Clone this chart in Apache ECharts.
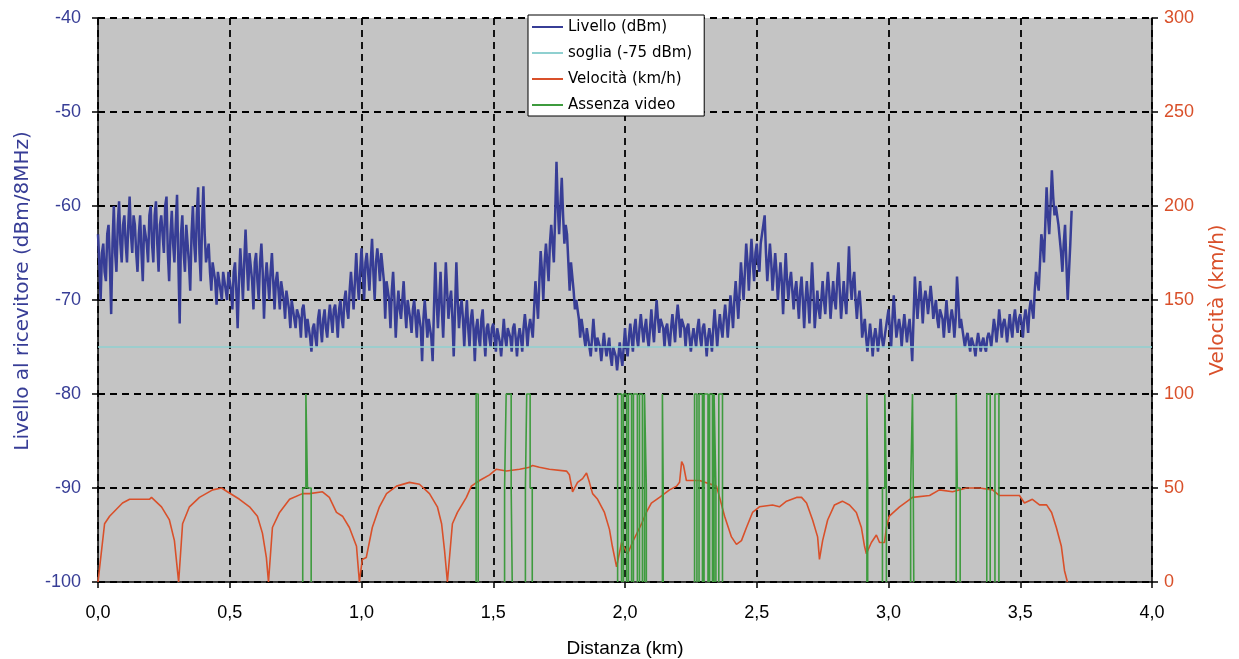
<!DOCTYPE html>
<html>
<head>
<meta charset="utf-8">
<title>Livello al ricevitore e velocità</title>
<script src="https://cdn.jsdelivr.net/npm/echarts@6/dist/echarts.min.js"></script>
<style>
	html, body { margin: 0; padding: 0; background: #fff; }
	#main { width: 1239px; height: 659px; }
</style>
</head>
<body>
<div id="main"></div>
<script>
// asse X: distanza in km
var xTicks = [0, 0.5, 1, 1.5, 2, 2.5, 3, 3.5, 4];

// livello al ricevitore (dBm), un campione ogni 0,005 km a partire da 0 (una riga = 0,1 km)
var livelloStepKm = 0.005;
var livelloDbm = [
	-63, -66, -70, -65, -64, -67, -68, -63, -62, -66, -71.5, -64, -60, -65, -67, -62, -59.5, -64, -66, -62,
	-61, -64, -66, -62, -59, -63, -65, -61, -62, -65, -67, -63, -61, -65, -68, -62, -63, -64, -66, -61,
	-60, -64, -66, -61, -59.5, -64, -67, -62, -61, -63, -65, -60, -59, -65, -68, -63, -60.5, -64, -66, -62,
	-58.8, -66, -72.5, -63, -61, -65, -67, -62, -62, -66, -69, -63, -60, -64, -66, -61, -58, -65, -68, -62,
	-57.9, -63, -66, -65, -64, -67, -69, -66, -66, -68, -70.5, -67, -67, -69, -70, -67, -68, -69, -70, -67,
	-67, -69, -71, -67, -66, -69, -73, -68, -64.5, -67, -70, -66, -62.5, -66, -69, -65, -65, -68, -71, -66,
	-65, -68, -70, -66, -64, -67, -72, -68, -66, -68, -70, -67, -65, -68, -71, -68, -67, -69, -71, -68,
	-68, -70, -72, -69, -69, -71, -73, -70, -70, -72, -73, -71, -71, -72, -74, -71, -70.5, -72, -74, -72,
	-72, -74, -75.5, -73, -72.5, -74, -75, -72, -71, -73, -74.5, -72, -71, -73, -74, -72, -70.5, -72, -73.5, -71,
	-70.5, -72, -74, -71, -70, -72, -73, -70, -69, -71, -72, -69, -67, -69, -71, -68, -65, -68, -70, -67,
	-64.5, -67, -70, -66, -65, -67, -69, -66, -63.5, -67, -70, -66, -64.5, -66, -68, -65, -65, -68, -72, -68,
	-68, -70, -73, -69, -67, -70, -74, -71, -69, -71, -72, -70, -68, -71, -73, -70, -70, -72, -73.5, -71,
	-70, -72, -74, -71, -71, -73, -76.5, -72, -70, -72, -74, -72, -72, -74, -76.5, -71, -66, -70, -73, -70,
	-67, -71, -74, -70, -66, -69, -72, -70, -69, -72, -76, -71, -66, -70, -73, -71, -70, -72, -75, -72,
	-70, -73, -75, -72, -71, -73, -76.5, -73, -72, -74, -75, -72, -71, -74, -76, -73, -72.5, -74, -75, -73,
	-72.5, -74, -75.5, -73, -73, -74.5, -76, -74, -72, -74, -75, -73, -73, -74, -75.5, -73, -72.5, -74, -76, -74,
	-73, -74, -75.5, -73, -71.5, -73, -75, -73, -72, -73, -74, -71, -68, -70, -72, -68, -64.8, -67, -70, -66,
	-64, -66, -68, -64, -62, -64, -66, -61, -55.3, -60, -63, -60, -57, -61, -64, -62, -63, -66, -69, -66,
	-66, -69, -71, -70, -70, -72, -74, -72, -72, -74, -75, -73, -73, -75, -76, -74, -72, -74, -75.5, -74,
	-74, -75, -76.5, -75, -73.5, -75, -76, -75, -74, -76, -77, -75, -75, -76, -77.5, -76, -74.5, -76, -77, -75,
	-73, -75, -76, -74, -72.5, -74, -75.5, -73, -72, -74, -75, -73, -71.5, -73, -74.5, -73, -72, -74, -75, -73,
	-71, -73, -74.5, -72, -70, -72, -73.5, -72, -72, -73, -75, -73, -72.5, -74, -75, -73, -71.5, -73, -74.5, -72,
	-70.5, -72, -74, -72, -72, -73, -75, -73, -72.5, -74, -75.5, -74, -73, -74, -75, -73, -72, -74, -75, -73,
	-72.5, -74, -76, -74, -73, -74, -75.5, -73, -71, -73, -75, -73, -71.5, -73, -74, -72, -70.5, -72, -74, -72,
	-69.5, -71, -73, -70, -68, -70, -72, -69, -66, -68, -70, -67, -64, -66, -69, -66, -63.5, -66, -68, -65,
	-64, -66, -67, -64, -63, -62, -61, -65, -68, -66, -64, -66, -69, -67, -65, -67, -70, -68, -66, -68,
	-71.5, -68, -65, -68, -70, -68, -67, -69, -71, -69, -68, -70, -72, -69, -67.5, -70, -73, -70, -68, -70,
	-72.5, -69, -66, -69, -73, -71, -69, -71, -72, -70, -68, -70, -71.5, -69, -67, -69, -72, -70, -68, -70,
	-71, -68, -66, -69, -72, -70, -68, -70, -71.5, -68, -64.3, -68, -70, -68, -67, -70, -72, -70, -69, -71,
	-74, -73, -72, -74, -75.5, -74, -72.5, -74, -76, -74, -73, -74, -75.5, -74, -72, -74, -75, -74, -73, -72,
	-71, -73, -75, -72, -69.5, -72, -74, -73, -72, -73, -75, -73, -71.5, -73, -74.5, -73, -72, -74, -76.5, -72,
	-67.5, -70, -72, -70, -68, -70, -72.5, -70, -69, -70, -71.5, -70, -68.5, -70, -72, -71, -70, -72, -73, -71,
	-71, -72, -74, -72, -70, -72, -73.5, -72, -71, -72, -74, -72, -67.5, -70, -73, -72, -72, -74, -75, -74,
	-73.5, -74.5, -75.5, -74, -74, -75, -76, -74.5, -73.5, -74.5, -75.5, -74.5, -74, -75, -75.5, -74, -73.5, -74, -75, -73.5,
	-72, -73, -74.5, -73, -71, -72.5, -74, -72.5, -72, -73, -74.5, -73, -71.5, -73, -74, -72, -71, -72.5, -73.5, -72,
	-71.5, -72.5, -74, -72, -71, -72, -73.5, -71, -70, -71, -72, -69, -67, -68, -69, -66, -63, -64, -66, -62,
	-58, -61, -63, -60, -56.2, -59, -61, -60, -60, -62, -63.5, -65, -67, -64, -62, -66, -70, -67, -64, -60.5
];

// soglia (-75 dBm)
var sogliaKm = [0, 4];
var sogliaDbm = [-75, -75];

// velocità (km/h): [km, km/h]
var velocita = [
	[0, 0], [0.025, 31], [0.044, 35], [0.093, 42], [0.120, 44], [0.150, 44], [0.195, 44], [0.203, 45], [0.241, 40], [0.271, 33],
	[0.290, 22], [0.306, 0], [0.321, 31], [0.347, 40], [0.385, 45], [0.435, 49], [0.469, 50], [0.491, 48], [0.537, 44], [0.575, 40],
	[0.605, 35], [0.624, 26], [0.639, 13], [0.647, 0], [0.662, 29], [0.689, 37], [0.727, 44], [0.776, 47], [0.803, 47], [0.852, 48],
	[0.878, 45], [0.905, 37], [0.928, 35], [0.954, 29], [0.981, 19], [0.992, 0], [1.003, 12], [1.018, 13], [1.041, 29], [1.068, 40],
	[1.095, 47], [1.133, 51], [1.182, 53], [1.220, 52], [1.258, 47], [1.288, 40], [1.304, 31], [1.315, 17], [1.326, 0], [1.345, 31],
	[1.364, 37], [1.398, 45], [1.417, 51], [1.448, 54], [1.486, 57], [1.512, 60], [1.550, 59], [1.600, 60], [1.638, 61], [1.649, 62],
	[1.675, 61], [1.713, 60], [1.778, 59], [1.789, 57], [1.801, 48], [1.820, 53], [1.839, 55], [1.854, 58], [1.865, 53], [1.877, 47],
	[1.896, 44], [1.922, 37], [1.941, 28], [1.952, 19], [1.968, 8], [1.987, 21], [2.010, 15], [2.028, 21], [2.063, 31], [2.081, 37],
	[2.100, 42], [2.131, 45], [2.169, 49], [2.196, 51], [2.207, 53], [2.215, 64], [2.222, 62], [2.233, 54], [2.283, 54], [2.347, 51],
	[2.359, 45], [2.378, 35], [2.404, 24], [2.423, 20], [2.442, 22], [2.461, 29], [2.484, 37], [2.510, 40], [2.560, 41], [2.586, 40],
	[2.613, 43], [2.651, 45], [2.670, 45], [2.689, 42], [2.712, 33], [2.731, 24], [2.738, 12], [2.750, 22], [2.769, 33], [2.795, 41],
	[2.825, 43], [2.852, 41], [2.878, 37], [2.897, 29], [2.909, 19], [2.916, 15], [2.935, 21], [2.954, 25], [2.966, 21], [2.985, 21],
	[2.992, 29], [3.003, 35], [3.042, 40], [3.072, 43], [3.091, 45], [3.156, 46], [3.193, 49], [3.243, 48], [3.296, 50], [3.345, 50],
	[3.395, 49], [3.421, 46], [3.497, 46], [3.516, 42], [3.546, 44], [3.573, 41], [3.600, 41], [3.619, 37], [3.637, 29], [3.656, 19],
	[3.668, 6], [3.679, 0]
];

// assenza video: impulsi [inizio esterno, inizio, fine, fine esterna] in km
var assenzaImpulsi = [
	[0.777, 0.789, 0.795, 0.809],
	[1.435, 1.435, 1.443, 1.443],
	[1.543, 1.549, 1.568, 1.572],
	[1.622, 1.627, 1.640, 1.648],
	[1.972, 1.972, 1.987, 1.987],
	[1.994, 1.994, 2.006, 2.006],
	[2.013, 2.013, 2.025, 2.025],
	[2.032, 2.032, 2.047, 2.047],
	[2.055, 2.055, 2.066, 2.066],
	[2.074, 2.074, 2.081, 2.081],
	[2.142, 2.142, 2.145, 2.145],
	[2.264, 2.264, 2.273, 2.273],
	[2.281, 2.281, 2.294, 2.294],
	[2.300, 2.300, 2.315, 2.315],
	[2.321, 2.321, 2.332, 2.332],
	[2.338, 2.338, 2.345, 2.345],
	[2.356, 2.356, 2.370, 2.370],
	[2.918, 2.918, 2.921, 2.921],
	[2.977, 2.986, 2.992, 2.992],
	[3.084, 3.091, 3.094, 3.096],
	[3.257, 3.257, 3.261, 3.272],
	[3.373, 3.373, 3.386, 3.386],
	[3.404, 3.404, 3.419, 3.419]
];
var assenzaLivelli = [0, 50, 100]; // km/h sull'asse destro

var chart = echarts.init(document.getElementById('main'));

var livelloData = livelloDbm.map(function (v, i) {
	return [+(i * livelloStepKm).toFixed(3), v];
});
var sogliaData = sogliaKm.map(function (k, i) {
	return [k, sogliaDbm[i]];
});
var assenzaData = [];
assenzaImpulsi.forEach(function (p) {
	assenzaData.push(
		[p[0], assenzaLivelli[0]], [p[0], assenzaLivelli[1]], [p[1], assenzaLivelli[1]], [p[1], assenzaLivelli[2]],
		[p[2], assenzaLivelli[2]], [p[2], assenzaLivelli[1]], [p[3], assenzaLivelli[1]], [p[3], assenzaLivelli[0]],
		[p[3], '-']
	);
});

var blu = '#373d96';
var arancio = '#d9502a';
var font = 'Liberation Sans, Arial, sans-serif';
var fontLargo = 'DejaVu Sans, Verdana, sans-serif';
var dashed = { color: '#000', width: 1.8, type: [7, 5] };

var option = {
	animation: false,
	backgroundColor: '#fff',
	textStyle: { fontFamily: font },
	grid: {
		left: 98, right: 87, top: 18, bottom: 77,
		show: true, backgroundColor: '#c4c4c4', borderWidth: 0,
		outerBoundsMode: 'none'
	},
	legend: {
		orient: 'vertical',
		left: 528, top: 15,
		padding: [4, 12, 3, 4],
		backgroundColor: '#fff',
		borderColor: '#000',
		borderWidth: 1,
		icon: 'rect',
		itemWidth: 31,
		itemHeight: 2,
		itemGap: 10,
		textStyle: { fontSize: 15, color: '#000', lineHeight: 16, fontFamily: fontLargo },
		data: ['Livello (dBm)', 'soglia (-75 dBm)', 'Velocità (km/h)', 'Assenza video']
	},
	xAxis: {
		type: 'value',
		min: xTicks[0], max: xTicks[xTicks.length - 1], interval: 0.5,
		name: 'Distanza (km)',
		nameLocation: 'middle',
		nameGap: 57,
		nameTextStyle: { fontSize: 19, color: '#000' },
		axisLine: { lineStyle: { color: '#000', width: 1.5 } },
		axisTick: { length: 6, lineStyle: { color: '#000', width: 1.5 } },
		axisLabel: {
			fontSize: 18, color: '#000', margin: 22,
			formatter: function (v) { return v.toFixed(1).replace('.', ','); }
		},
		splitLine: { show: true, lineStyle: dashed }
	},
	yAxis: [{
		type: 'value',
		position: 'left',
		min: -100, max: -40, interval: 10,
		name: 'Livello al ricevitore (dBm/8MHz)',
		nameLocation: 'middle',
		nameGap: 65,
		nameTextStyle: { fontSize: 20, color: blu, fontFamily: fontLargo, padding: [0, 0, 0, 18] },
		axisLine: { show: true, lineStyle: { color: '#000', width: 1.5 } },
		axisTick: { show: true, length: 6, lineStyle: { color: '#000', width: 1.5 } },
		axisLabel: { fontSize: 18, color: blu, margin: 17 },
		splitLine: { show: true, lineStyle: dashed }
	}, {
		type: 'value',
		position: 'right',
		min: 0, max: 300, interval: 50,
		name: 'Velocità (km/h)',
		nameLocation: 'middle',
		nameGap: 56,
		nameTextStyle: { fontSize: 20, color: arancio, fontFamily: fontLargo },
		axisLine: { show: true, lineStyle: { color: '#000', width: 1.5 } },
		axisTick: { show: true, length: 6, lineStyle: { color: '#000', width: 1.5 } },
		axisLabel: { fontSize: 18, color: arancio, margin: 12 },
		splitLine: { show: false }
	}],
	series: [{
		name: 'Livello (dBm)',
		type: 'line',
		yAxisIndex: 0,
		data: livelloData,
		symbol: 'none',
		z: 3,
		itemStyle: { color: blu },
		lineStyle: { color: blu, width: 2.5 }
	}, {
		name: 'soglia (-75 dBm)',
		type: 'line',
		yAxisIndex: 0,
		data: sogliaData,
		symbol: 'none',
		z: 4,
		itemStyle: { color: '#8fd0d0' },
		lineStyle: { color: '#8fd0d0', width: 1.6 }
	}, {
		name: 'Velocità (km/h)',
		type: 'line',
		yAxisIndex: 1,
		data: velocita,
		symbol: 'none',
		z: 3,
		itemStyle: { color: arancio },
		lineStyle: { color: arancio, width: 1.6 }
	}, {
		name: 'Assenza video',
		type: 'line',
		yAxisIndex: 1,
		data: assenzaData,
		symbol: 'none',
		connectNulls: false,
		z: 5,
		itemStyle: { color: '#3e9b3e' },
		lineStyle: { color: '#3e9b3e', width: 1.6 }
	}]
};

chart.setOption(option);
</script>
</body>
</html>
